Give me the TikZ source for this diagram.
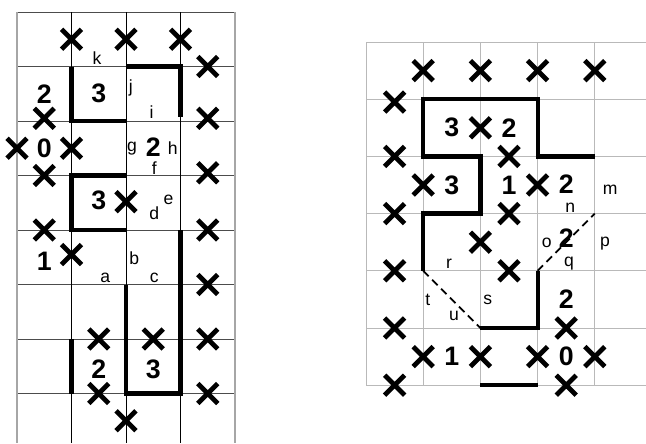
\documentclass[tikz,border=0pt]{standalone}
\usepackage{fontspec}
\setmainfont{Liberation Sans}
\usetikzlibrary{shapes.misc}

\tikzset{
  xmark/.style={cross out, draw, line width=3.4pt, minimum size=0.38cm, inner sep=0pt},
  clue/.style={font=\fontsize{19}{19}\selectfont\bfseries, inner sep=0pt},
  tag/.style={font=\fontsize{12.5}{13}\selectfont, inner sep=0pt},
  wall/.style={line width=3pt, line join=miter},
  guess/.style={line width=1.3pt, dash pattern=on 5.5pt off 3.5pt},
}

\begin{document}
\begin{tikzpicture}
\useasboundingbox (0,0) rectangle (16.15,-11.075);

% left puzzle
\begin{scope}[shift={(0.425,-0.3)}, x=1.3625cm, y=-1.3625cm]
  \foreach \r in {0,...,7}
    \draw[black!70, line width=0.6pt] (0,\r) -- (4,\r);
  \foreach \c in {1,2,3}
    \draw[black, line width=0.5pt] (\c,0) -- (\c,7.91);
  \draw[gray!70, line width=1.3pt] (0,0) -- (0,7.91);
  \draw[gray!70, line width=1.3pt] (4,0) -- (4,7.91);

  \draw[wall] (1,1) -- (1,2) -- (2,2);
  \draw[wall] (2,1) -- (3,1) -- (3,1.93);
  \draw[wall] (2,3) -- (1,3) -- (1,4) -- (2,4);
  \draw[wall] (3,4) -- (3,7) -- (2,7) -- (2,5);
  \draw[wall] (1,6) -- (1,7);

  \foreach \p [count=\n] in {(1,0.5),(2,0.5),(3,0.5),(3.5,1),(0.5,1.95),(3.5,1.95),
      (0,2.5),(1,2.5),(0.5,3),(3.5,2.95),(2,3.48),(0.5,4),(3.5,4),(1,4.45),
      (3.5,5),(1.5,6),(2.5,6),(3.5,6),(1.5,7),(3.5,7),(2,7.5)}
    \node[xmark] (lx\n) at \p {};

  \node[clue] (l2a) at (0.5,1.5) {2};
  \node[clue] (l3a) at (1.5,1.5) {3};
  \node[clue] (l0)  at (0.5,2.5) {0};
  \node[clue] (l2b) at (2.5,2.48) {2};
  \node[clue] (l3b) at (1.5,3.45) {3};
  \node[clue] (l1)  at (0.5,4.57) {1};
  \node[clue] (l2c) at (1.5,6.55) {2};
  \node[clue] (l3c) at (2.5,6.55) {3};

  \node[tag] (k) at (1.47,0.85) {k};
  \node[tag] (j) at (2.09,1.4) {j};
  \node[tag] (i) at (2.47,1.83) {i};
  \node[tag] (g) at (2.11,2.5) {g};
  \node[tag] (h) at (2.86,2.5) {h};
  \node[tag] (f) at (2.52,2.87) {f};
  \node[tag] (e) at (2.78,3.45) {e};
  \node[tag] (d) at (2.52,3.7) {d};
  \node[tag] (b) at (2.15,4.52) {b};
  \node[tag] (a) at (1.62,4.87) {a};
  \node[tag] (c) at (2.52,4.87) {c};
\end{scope}

% right puzzle
\begin{scope}[shift={(9.15,-1.05)}, x=1.43cm, y=-1.43cm]
  \foreach \r in {0,...,6}
    \draw[gray!55, line width=0.6pt] (0,\r) -- (4.9,\r);
  \foreach \c in {0,...,4}
    \draw[gray!55, line width=0.6pt] (\c,0) -- (\c,6);

  \draw[wall] (4,2) -- (3,2) -- (3,1) -- (1,1) -- (1,2) -- (2,2) -- (2,3) -- (1,3) -- (1,4);
  \draw[wall] (3,4) -- (3,5) -- (2,5);
  \draw[wall] (2,6) -- (3,6);

  \foreach \p [count=\n] in {(1,0.5),(2,0.5),(3,0.5),(4,0.5),(0.5,1.05),(2,1.5),
      (0.5,2),(2.5,2),(1,2.5),(3,2.5),(0.5,3),(2.5,3),(2,3.5),(0.5,4),(2.5,4),
      (0.5,5),(3.5,5),(1,5.5),(2,5.5),(3,5.5),(4,5.5),(0.5,6),(3.5,6)}
    \node[xmark] (rx\n) at \p {};

  \node[clue] (r3a) at (1.5,1.5) {3};
  \node[clue] (r2a) at (2.5,1.5) {2};
  \node[clue] (r3b) at (1.5,2.5) {3};
  \node[clue] (r1a) at (2.5,2.5) {1};
  \node[clue] (r2b) at (3.5,2.48) {2};
  \node[clue] (r2c) at (3.5,3.43) {2};
  \node[clue] (r2d) at (3.5,4.5) {2};
  \node[clue] (r1b) at (1.5,5.5) {1};
  \node[clue] (r0)  at (3.5,5.5) {0};

  \draw[guess] (1,4) -- (2,5);
  \draw[guess] (3,4) -- (4,3);

  \node[tag] (m) at (4.27,2.59) {m};
  \node[tag] (n) at (3.57,2.9) {n};
  \node[tag] (o) at (3.16,3.52) {o};
  \node[tag] (p) at (4.18,3.52) {p};
  \node[tag] (q) at (3.55,3.87) {q};
  \node[tag] (r) at (1.45,3.87) {r};
  \node[tag] (t) at (1.08,4.5) {t};
  \node[tag] (s) at (2.13,4.5) {s};
  \node[tag] (u) at (1.54,4.79) {u};
\end{scope}
\end{tikzpicture}
\end{document}
